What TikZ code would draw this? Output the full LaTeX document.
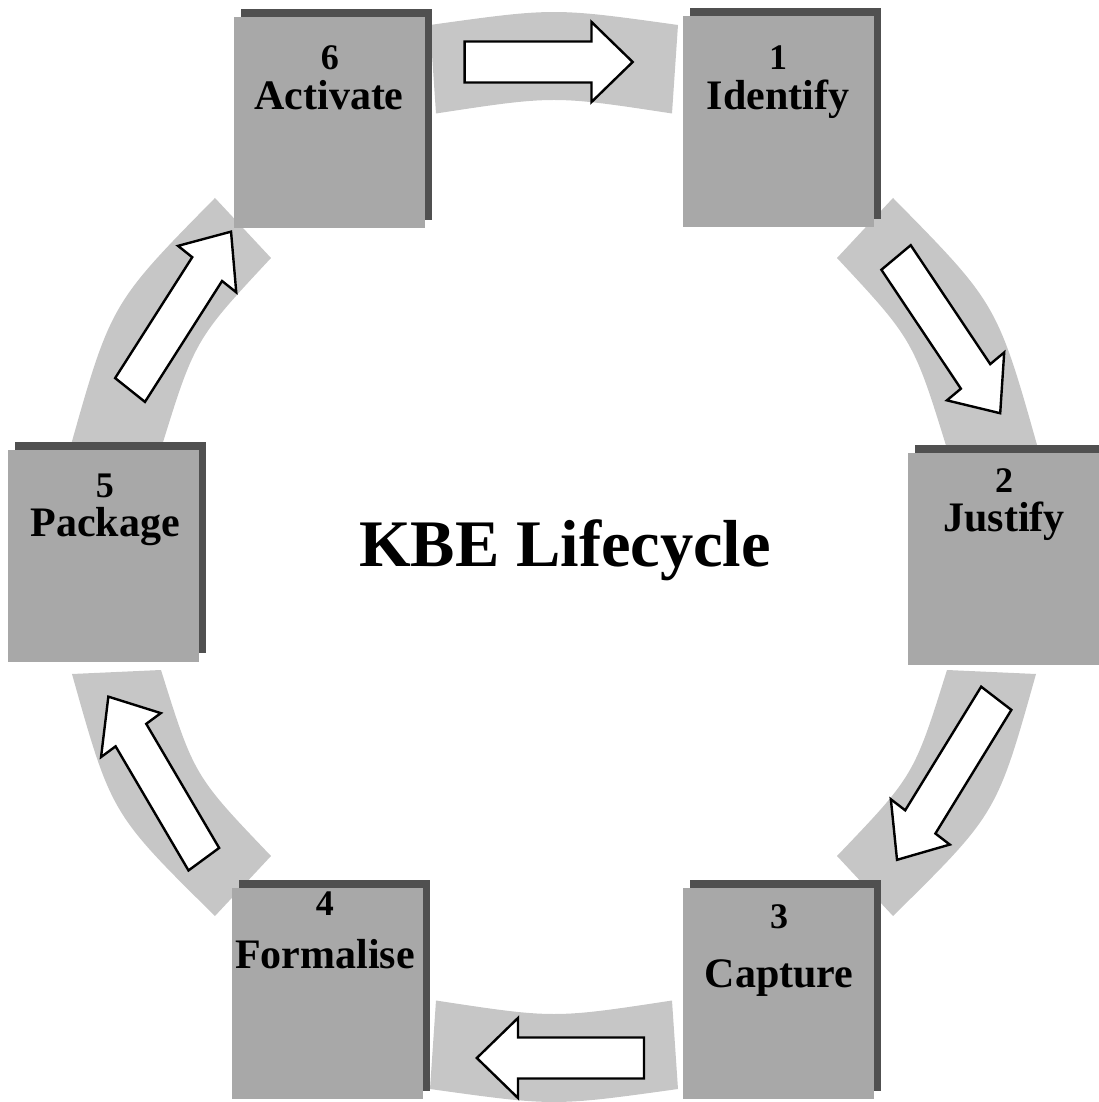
\documentclass[tikz,border=0pt]{standalone}
\usepackage{fontspec}
\setmainfont{Liberation Serif}
\begin{document}
\begin{tikzpicture}[x=1pt,y=1pt,
  band/.style={fill=bandgray,draw=none},
  stagebox/.style={rectangle,fill=boxgray,draw=none,minimum width=191pt,minimum height=211pt,inner sep=0pt},
  boxshade/.style={fill=shadegray,draw=none},
  arrowshape/.style={fill=white,draw=black,line width=2.4pt,line join=miter},
  numtext/.style={font=\fontsize{36}{36}\selectfont\bfseries,inner sep=0pt,anchor=base},
  stagetext/.style={font=\fontsize{42}{42}\selectfont\bfseries,inner sep=0pt,anchor=base},
  titletext/.style={font=\fontsize{66.5}{66.5}\selectfont\bfseries,inner sep=0pt,anchor=base}]
\definecolor{bandgray}{HTML}{C6C6C6}
\definecolor{boxgray}{HTML}{A8A8A8}
\definecolor{shadegray}{HTML}{505050}

\useasboundingbox (-554,-545) rectangle (545,557);

% ring segments between the stages
\path[band] (-124,532) .. controls (0,549.3) .. (124,532) -- (118,443.5) .. controls (0,461.5) .. (-118,443.5) -- cycle;
\path[band] (-124,-532) .. controls (0,-549.3) .. (124,-532) -- (118,-443.5) .. controls (0,-461.5) .. (-118,-443.5) -- cycle;
\path[band] (283,299) -- (339,359) .. controls (443.3,253.2) .. (485,105) -- (394,105) .. controls (359.4,217.1) .. (283,299) -- cycle;
\path[band] (-283,299) -- (-339,359) .. controls (-443.3,253.2) .. (-485,105) -- (-394,105) .. controls (-359.4,217.1) .. (-283,299) -- cycle;
\path[band] (283,-299) -- (339,-359) .. controls (442.8,-256.7) .. (482,-117) -- (393,-113) .. controls (359.9,-218.7) .. (283,-299) -- cycle;
\path[band] (-283,-299) -- (-339,-359) .. controls (-442.8,-256.7) .. (-482,-117) -- (-393,-113) .. controls (-359.9,-218.7) .. (-283,-299) -- cycle;

% block arrows: tail point, direction, length
\newcommand\cyclearrow[4]{%
  \draw[arrowshape,shift={(#1,#2)},rotate=#3]
    (0,-20.5) -- ({#4-46},-20.5) -- ({#4-46},-40) -- (#4,0)
    -- ({#4-46},40) -- ({#4-46},20.5) -- (0,20.5) -- cycle;}
\begin{scope}[xscale=0.894]
  \cyclearrow{-100}{495}{0}{188}
  \cyclearrow{382.6}{299.5}{-53.2}{194.5}
  \cyclearrow{494.7}{-141.3}{-124.5}{196}
  \cyclearrow{100.7}{-501}{180}{187}
  \cyclearrow{-391.7}{-302.2}{123.3}{194.5}
  \cyclearrow{-474.2}{167}{54.5}{194.5}
\end{scope}

% stage boxes with their drop shade
\foreach \bx/\by/\nm in {224/435/b1, 449.5/-2/b2, 224/-436.5/b3, -226/-436.5/b4, -450.5/1/b5, -224/434/b6}{
  \path[boxshade] ({\bx-95.5+7},{\by-105.5+8}) rectangle ({\bx+95.5+7},{\by+105.5+8});
  \node[stagebox] (\nm) at (\bx,\by) {};
}

% stage labels
\node[numtext] (n1) at (224,487) {1};
\node[stagetext] (l1) at (224,447) {Identify};
\node[numtext] (n2) at (450,64) {2};
\node[stagetext] (l2) at (450,25) {Justify};
\node[numtext] (n3) at (225,-371) {3};
\node[stagetext] (l3) at (225,-430) {Capture};
\node[numtext] (n4) at (-229,-358) {4};
\node[stagetext] (l4) at (-229,-411) {Formalise};
\node[numtext] (n5) at (-449,59) {5};
\node[stagetext] (l5) at (-449,20) {Package};
\node[numtext] (n6) at (-224,487) {6};
\node[stagetext] (l6) at (-225,447) {Activate};

\node[titletext] (title) at (11,-10) {KBE Lifecycle};
\end{tikzpicture}
\end{document}
